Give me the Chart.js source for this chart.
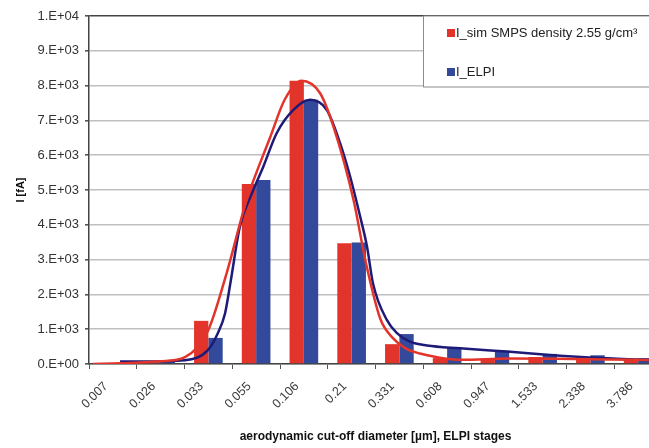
<!DOCTYPE html>
<html>
<head>
<meta charset="utf-8">
<script src="https://cdn.jsdelivr.net/npm/chart.js@4"></script>
<style>
  body { margin: 0; overflow: hidden; background: #fff; }
  #wrap { position: relative; width: 670px; height: 448px; }
  #wrap canvas { position: absolute; left: 0; top: 0; }
</style>
</head>
<body>
<div id="wrap">
  <canvas id="barChart" width="670" height="448"></canvas>
  <canvas id="fitChart" width="670" height="448"></canvas>
</div>
<script>
// ELPI stage cut-off diameters (µm)
const categories = ['0.007', '0.026', '0.033', '0.055', '0.106', '0.21', '0.331', '0.608', '0.947', '1.533', '2.338', '3.786'];

// bar values, fA
const simBars = [0, 30, 1240, 5170, 8140, 3470, 570, 170, 130, 200, 170, 150];
const elpiBars = [0, 80, 750, 5290, 7590, 3490, 860, 460, 380, 290, 250, 170];

// fitted curves (x in stage index units)
const simCurveX = [-0.42, 0.15, 0.99, 1.51, 1.99, 2.38, 2.8, 3.29, 3.6, 3.95, 4.34, 4.62, 5.04, 5.3, 5.6, 5.86, 6.13, 6.43, 6.77, 7.3, 8.3, 9.3, 10.4, 11.5];
const simCurveY = [0, 20, 80, 200, 950, 2600, 4700, 6500, 7600, 8140, 7780, 6820, 4710, 2900, 1300, 750, 450, 300, 200, 120, 160, 150, 130, 110];
const elpiCurveX = [0.15, 0.61, 1.51, 1.99, 2.2, 2.35, 2.47, 2.66, 2.91, 3.15, 3.43, 3.78, 4.13, 4.48, 4.76, 4.97, 5.18, 5.32, 5.45, 5.74, 5.95, 6.22, 6.58, 7.27, 8.32, 9.15, 10.2, 11.5];
const elpiCurveY = [70, 70, 110, 400, 890, 1460, 2400, 3950, 4900, 5670, 6630, 7300, 7590, 7300, 6340, 5380, 4230, 3390, 2300, 1260, 890, 640, 530, 450, 350, 260, 170, 100];

const yTickLabels = ['0.E+00', '1.E+03', '2.E+03', '3.E+03', '4.E+03', '5.E+03', '6.E+03', '7.E+03', '8.E+03', '9.E+03', '1.E+04'];

const RED = '#e3342b';
const BLUE = '#33499b';
const NAVY = '#1e1b78';
const FONT = '"Liberation Sans", Arial, sans-serif';

// plot area inside the 670x448 canvas (right part is cut off by the window)
const AREA = { left: 89, right: 8, top: 16, bottom: 84 };

function toPoints(xs, ys) {
  return xs.map((x, i) => ({ x: x, y: ys[i] }));
}

// legend box in the upper right of the plot
const boxLegend = {
  id: 'boxLegend',
  afterDatasetsDraw(chart) {
    const ctx = chart.ctx;
    const bx = 423.5, by = 16, bw = 300, bh = 71;
    ctx.save();
    ctx.fillStyle = '#fff';
    ctx.fillRect(bx, by, bw, bh);
    ctx.strokeStyle = '#8c8c8c';
    ctx.lineWidth = 1;
    ctx.strokeRect(bx, by, bw, bh);
    const rows = [33, 72];
    ctx.font = '13px ' + FONT;
    ctx.textBaseline = 'middle';
    chart.data.datasets.forEach((d, i) => {
      ctx.fillStyle = d.backgroundColor;
      ctx.fillRect(447, rows[i] - 4, 8, 8);
      ctx.fillStyle = '#222';
      ctx.fillText(d.label, 456, rows[i]);
    });
    ctx.restore();
  }
};

// bars with axes
new Chart(document.getElementById('barChart'), {
  type: 'bar',
  data: {
    labels: categories,
    datasets: [
      {
        label: 'I_sim SMPS density 2.55 g/cm³',
        data: simBars,
        backgroundColor: RED,
        categoryPercentage: 0.6,
        barPercentage: 1.0
      },
      {
        label: 'I_ELPI',
        data: elpiBars,
        backgroundColor: BLUE,
        categoryPercentage: 0.6,
        barPercentage: 1.0
      }
    ]
  },
  options: {
    responsive: false,
    animation: false,
    devicePixelRatio: 1,
    layout: { padding: { top: AREA.top, left: 10, right: AREA.right, bottom: 0 } },
    plugins: {
      legend: { display: false },
      tooltip: { enabled: false }
    },
    scales: {
      x: {
        offset: true,
        afterFit: s => { s.height = AREA.bottom; },
        grid: { display: true, drawOnChartArea: false, offset: true, tickLength: 5, tickColor: '#555', lineWidth: 1 },
        border: { color: '#444', width: 1.5 },
        ticks: { font: { family: FONT, size: 12.5 }, color: '#3a3a3a', maxRotation: 45, minRotation: 45, padding: 10, labelOffset: -7 },
        title: {
          display: true,
          text: 'aerodynamic cut-off diameter [µm], ELPI stages',
          font: { family: FONT, size: 12, weight: 'bold' },
          color: '#111',
          padding: { top: 0, bottom: 4 }
        }
      },
      y: {
        min: 0,
        max: 10000,
        afterFit: s => { s.width = AREA.left - 10; },
        grid: {
          color: c => (c.tick && c.tick.value === 10000 ? '#444' : '#c0c0c0'),
          lineWidth: 1.6,
          tickLength: 4,
          tickColor: '#555'
        },
        border: { color: '#444', width: 1.5 },
        ticks: {
          stepSize: 1000,
          font: { family: FONT, size: 13 },
          color: '#333',
          padding: 6,
          callback: (v, i) => yTickLabels[i]
        },
        title: {
          display: true,
          text: 'I [fA]',
          font: { family: FONT, size: 11, weight: 'bold' },
          color: '#111',
          padding: { top: 4, bottom: 0 }
        }
      }
    }
  },
  plugins: [boxLegend]
});

// fitted curves on a transparent chart laid over the same plot area
new Chart(document.getElementById('fitChart'), {
  type: 'line',
  data: {
    datasets: [
      {
        label: 'sim fit',
        data: toPoints(simCurveX, simCurveY),
        borderColor: RED,
        borderWidth: 2.5,
        pointRadius: 0,
        cubicInterpolationMode: 'monotone'
      },
      {
        label: 'ELPI fit',
        data: toPoints(elpiCurveX, elpiCurveY),
        borderColor: NAVY,
        borderWidth: 2.5,
        pointRadius: 0,
        cubicInterpolationMode: 'monotone'
      }
    ]
  },
  options: {
    responsive: false,
    animation: false,
    devicePixelRatio: 1,
    layout: { padding: AREA },
    plugins: {
      legend: { display: false },
      tooltip: { enabled: false }
    },
    scales: {
      x: { type: 'linear', display: false, min: -0.5, max: 11.5 },
      y: { display: false, min: 0, max: 10000 }
    }
  }
});
</script>
</body>
</html>
